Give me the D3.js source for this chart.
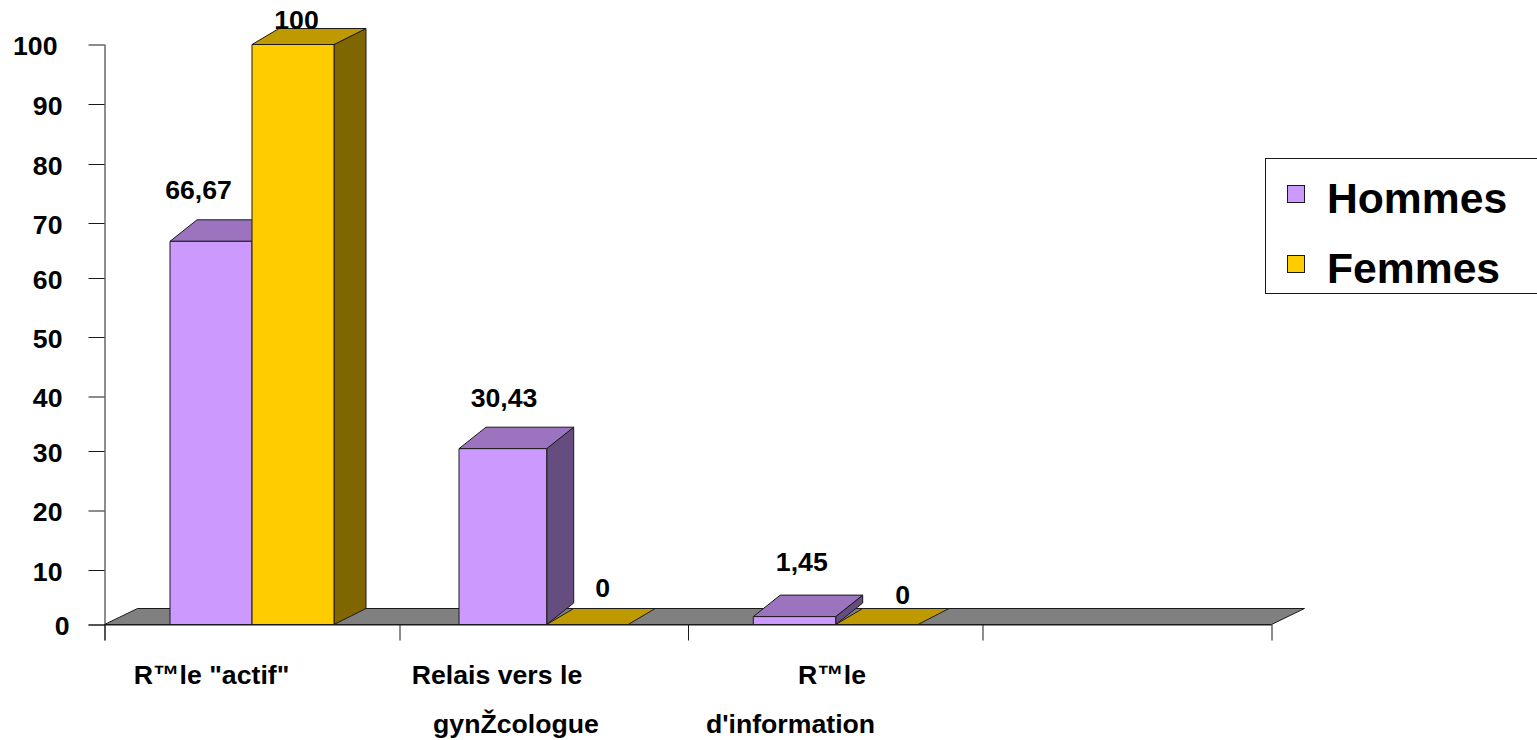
<!DOCTYPE html>
<html>
<head>
<meta charset="utf-8">
<title>Hommes / Femmes</title>
<script src="https://cdn.jsdelivr.net/npm/d3@7/dist/d3.min.js"></script>
<style>
  html, body { margin: 0; padding: 0; background: #fff; }
  svg { display: block; }
  text { font-family: "Liberation Sans", Arial, sans-serif; font-weight: 700; fill: #000; }
</style>
</head>
<body>
<svg id="chart" width="1537" height="740"></svg>
<script>
// Chart values
const categories = ['R™le "actif"', "Relais vers le|gynŽcologue", "R™le|d'information", ""];
const seriesNames = ["Hommes", "Femmes"];
const hommes = [66.67, 30.43, 1.45];
const femmes = [100, 0, 0];
const valueLabels = [["66,67", "30,43", "1,45"], ["100", "0", "0"]];
const yTicks = [0, 10, 20, 30, 40, 50, 60, 70, 80, 90, 100];
const yTickPixels = [624.5, 570, 510.5, 451, 396.5, 337, 278, 223, 164, 104, 44.5];
const xSlots = [0, 1, 2, 3, 4];
const xSlotPixels = [104.5, 399.5, 688, 982.5, 1271.5];

// Face colours per series: front, top, side
const faces = [
  { front: "#CC99FF", top: "#9B73BF", side: "#664D80" },
  { front: "#FFCC00", top: "#BF9900", side: "#806600" }
];
const LINE = "#1a1a1a";

// Horizontal extent of each bar, per series then per group
const barLeft = d3.scaleOrdinal([0, 1, 2], [170, 459, 753.3]);
const barWidths = [[82, 87.7, 82.4], [82, 81.5, 82.3]];

// Extrusion of each series; the right edge of the second series varies per group
const depth = [
  { dxL: 27, dxR: [27, 27, 27], dy: 21.5 },
  { dxL: 27, dxR: [32, 27, 31], dy: 16 }
];
// Value label placement relative to the bar's front top-left corner
const labelOffset = [
  [[28.5, -42], [45, -42], [48.5, -45.5]],
  [[44.5, -15.5], [56, -27.5], [67, -21]]
];

const svg = d3.select("#chart");
const y = d3.scaleLinear().domain(yTicks).range(yTickPixels);
const x = d3.scaleLinear().domain(xSlots).range(xSlotPixels);
const poly = d3.line();

function face(points, fill) {
  svg.append("path")
    .attr("d", poly(points) + "Z")
    .attr("fill", fill)
    .attr("stroke", LINE)
    .attr("stroke-width", 1)
    .attr("stroke-linejoin", "round");
}

// Left edge of a bar: the second series sits against the first
const leftOf = (s, i) => barLeft(i) + (s ? barWidths[0][i] : 0);

// Floor of the 3D plot
const floorLeft = x(0), floorRight = x(4), base = y(0);
face([[floorLeft, base], [floorLeft + 33, base - 16], [floorRight + 33, base - 16], [floorRight, base]], "#808080");

// Axes
const yAxis = d3.axisLeft(y).tickValues(yTicks).tickSize(16).tickFormat("");
const yG = svg.append("g").attr("transform", `translate(${floorLeft},0)`).call(yAxis);
const xAxis = d3.axisBottom(x).tickValues(xSlots).tickSize(16).tickFormat("");
const xG = svg.append("g").attr("transform", `translate(0,${base})`).call(xAxis);
yG.selectAll("path,line").attr("stroke", LINE).attr("stroke-width", 1);
xG.selectAll("path,line").attr("stroke", LINE).attr("stroke-width", 1);
yG.select("path.domain").attr("d", `M0.5,${y(100)}V${base + 16}`);
xG.select("path.domain").attr("d", `M${floorLeft - 16},0.5H${floorRight}`);

// Tick labels: the right edge steps with the number of digits
const tickRight = { 1: 69.5, 2: 62.5, 3: 57.5 };
svg.append("g").selectAll("text").data(yTicks).join("text")
  .attr("x", d => tickRight[String(d).length])
  .attr("y", d => y(d) + 10.5)
  .attr("text-anchor", "end")
  .attr("font-size", 26.67)
  .text(d => d);

// Bars, left to right so each one overlaps its neighbour's back edge
[0, 1, 2].forEach(i => {
  [hommes, femmes].forEach((values, s) => {
    const v = values[i];
    const l = leftOf(s, i), r = l + barWidths[s][i], t = y(v);
    const d = depth[s], dxR = d.dxR[i];
    const c = faces[s];
    if (v > 0) face([[r, base], [r + dxR, base - d.dy], [r + dxR, t - d.dy], [r, t]], c.side);
    face([[l, t], [l + d.dxL, t - d.dy], [r + dxR, t - d.dy], [r, t]], c.top);
    if (v > 0) face([[l, base], [l, t], [r, t], [r, base]], c.front);
  });
});

// Value labels
[hommes, femmes].forEach((values, s) => {
  values.forEach((v, i) => {
    const [ox, oy] = labelOffset[s][i];
    svg.append("text")
      .attr("x", leftOf(s, i) + ox)
      .attr("y", y(v) + oy)
      .attr("text-anchor", "middle")
      .attr("font-size", 26.67)
      .text(valueLabels[s][i]);
  });
});

// Category labels, one text per wrapped line
const catLineCentres = [[211.5], [497, 516], [832, 790.5]];
categories.forEach((cat, i) => {
  if (!cat) return;
  cat.split("|").forEach((line, k) => {
    svg.append("text")
      .attr("x", catLineCentres[i][k])
      .attr("y", 684 + k * 49)
      .attr("text-anchor", "middle")
      .attr("font-size", 26.67)
      .text(line);
  });
});

// Legend, running off the right edge
svg.append("rect")
  .attr("x", 1265.5).attr("y", 158.5)
  .attr("width", 290).attr("height", 135)
  .attr("fill", "#fff").attr("stroke", LINE).attr("stroke-width", 1);
seriesNames.forEach((name, s) => {
  const top = 185.5 + s * 70;
  svg.append("rect")
    .attr("x", 1287.5).attr("y", top)
    .attr("width", 17).attr("height", 17)
    .attr("fill", faces[s].front).attr("stroke", LINE).attr("stroke-width", 1);
  svg.append("text")
    .attr("x", 1327).attr("y", top + 27.5)
    .attr("font-size", 42.67)
    .text(name);
});
</script>
</body>
</html>
